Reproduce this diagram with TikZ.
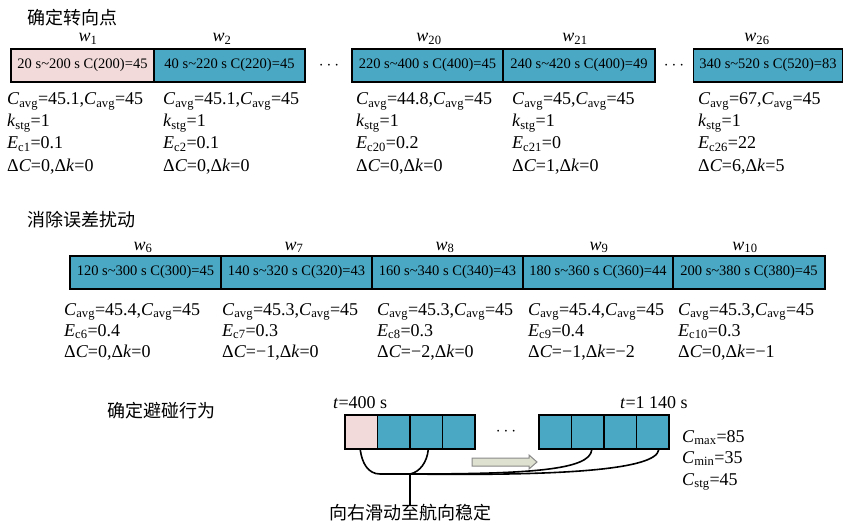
\documentclass[tikz,border=0pt]{standalone}
\usepackage{fontspec}
\setmainfont{Liberation Serif}
\newfontfamily\cjk{Noto Sans CJK SC}
\definecolor{tealbox}{HTML}{4AA8C4}
\definecolor{pinkbox}{HTML}{F2DADA}
\definecolor{arrfill}{HTML}{DEE1CF}
\definecolor{arrdraw}{HTML}{8A8A8A}
\newcommand\cav{\textit{C}\textsubscript{avg}}
\newcommand\kst{\textit{k}\textsubscript{stg}}
\newcommand\ecx[1]{\textit{E}\textsubscript{c#1}}
\newcommand\dC{Δ\textit{C}}
\newcommand\dk{Δ\textit{k}}
\newcommand\wl[1]{\textit{w}\textsubscript{#1}}
\begin{document}
\begin{tikzpicture}[x=1pt,y=-1pt,
  wbox/.style={draw=black, line width=1.6pt, fill=tealbox, inner sep=0pt,
    minimum height=33pt, font=\fontsize{14.5}{16}\selectfont},
  sbox/.style={draw=black, line width=1.6pt, fill=tealbox, inner sep=0pt,
    minimum height=34pt, minimum width=32.5pt},
  info/.style={anchor=base west, inner sep=0pt, font=\fontsize{18}{20}\selectfont},
  wlab/.style={anchor=base, inner sep=0pt, font=\fontsize{18}{20}\selectfont},
  cjkt/.style={inner sep=0pt, font=\cjk\fontsize{18}{20}\selectfont},
  dots/.style={inner sep=0pt, font=\fontsize{18}{20}\selectfont},
  conn/.style={draw=black, line width=1.6pt},
  mvarrow/.style={draw=arrdraw, fill=arrfill, line width=1pt}]
\useasboundingbox[fill=white] (0,0) rectangle (844,524);

% ---------- Row 1 ----------
\node[cjkt, anchor=west] (t1) at (27,18) {确定转向点};
\node[wbox, fill=pinkbox, minimum width=143pt] (b1) at (82.5,65.5) {20 s\textasciitilde 200 s C(200)=45};
\node[wbox, minimum width=151pt] (b2) at (229.5,65.5) {40 s\textasciitilde 220 s C(220)=45};
\node[dots] (d1) at (329,66) {$\cdots$};
\node[wbox, minimum width=151pt] (b20) at (427.5,65.5) {220 s\textasciitilde 400 s C(400)=45};
\node[wbox, minimum width=152pt] (b21) at (579,65.5) {240 s\textasciitilde 420 s C(400)=49};
\node[dots] (d2) at (674,66) {$\cdots$};
\node[wbox, minimum width=149pt] (b26) at (768,65.5) {340 s\textasciitilde 520 s C(520)=83};

\node[wlab] (w1) at (88,42) {\wl{1}};
\node[wlab] (w2) at (222,42) {\wl{2}};
\node[wlab] (w20) at (429,42) {\wl{20}};
\node[wlab] (w21) at (575,42) {\wl{21}};
\node[wlab] (w26) at (757,42) {\wl{26}};

\foreach \n/\x/\la/\lb/\lc/\ld in {
  1/7/{\cav=45.1,\cav=45}/{\kst=1}/{\ecx{1}=0.1}/{\dC=0,\dk=0},
  2/163/{\cav=45.1,\cav=45}/{\kst=1}/{\ecx{2}=0.1}/{\dC=0,\dk=0},
  3/356/{\cav=44.8,\cav=45}/{\kst=1}/{\ecx{20}=0.2}/{\dC=0,\dk=0},
  4/512/{\cav=45,\cav=45}/{\kst=1}/{\ecx{21}=0}/{\dC=1,\dk=0},
  5/698/{\cav=67,\cav=45}/{\kst=1}/{\ecx{26}=22}/{\dC=6,\dk=5}}{
  \node[info] (pa\n) at (\x,105) {\la};
  \node[info] (pb\n) at (\x,127) {\lb};
  \node[info] (pc\n) at (\x,149) {\lc};
  \node[info] (pd\n) at (\x,172) {\ld};
}

% ---------- Row 2 ----------
\node[cjkt, anchor=west] (t2) at (27,220) {消除误差扰动};
\node[wbox, minimum width=151pt] (e6) at (145.5,272.5) {120 s\textasciitilde 300 s C(300)=45};
\node[wbox, minimum width=151pt] (e7) at (296.5,272.5) {140 s\textasciitilde 320 s C(320)=43};
\node[wbox, minimum width=151pt] (e8) at (447.5,272.5) {160 s\textasciitilde 340 s C(340)=43};
\node[wbox, minimum width=150pt] (e9) at (598,272.5) {180 s\textasciitilde 360 s C(360)=44};
\node[wbox, minimum width=152pt] (e10) at (749,272.5) {200 s\textasciitilde 380 s C(380)=45};

\node[wlab] (w6) at (143,250) {\wl{6}};
\node[wlab] (w7) at (294,250) {\wl{7}};
\node[wlab] (w8) at (445,250) {\wl{8}};
\node[wlab] (w9) at (599,250) {\wl{9}};
\node[wlab] (w10) at (745,250) {\wl{10}};

\foreach \n/\x/\la/\lb/\lc in {
  1/64/{\cav=45.4,\cav=45}/{\ecx{6}=0.4}/{\dC=0,\dk=0},
  2/222/{\cav=45.3,\cav=45}/{\ecx{7}=0.3}/{\dC=−1,\dk=0},
  3/377/{\cav=45.3,\cav=45}/{\ecx{8}=0.3}/{\dC=−2,\dk=0},
  4/528/{\cav=45.4,\cav=45}/{\ecx{9}=0.4}/{\dC=−1,\dk=−2},
  5/678/{\cav=45.3,\cav=45}/{\ecx{10}=0.3}/{\dC=0,\dk=−1}}{
  \node[info] (qa\n) at (\x,315) {\la};
  \node[info] (qb\n) at (\x,336) {\lb};
  \node[info] (qc\n) at (\x,357) {\lc};
}

% ---------- Row 3 ----------
\node[cjkt, anchor=west] (t3) at (107,411) {确定避碰行为};
\node[info] (ta) at (333,408) {\textit{t}=400 s};
\node[info] (tb) at (620,408) {\textit{t}=1 140 s};

\node[sbox, fill=pinkbox] (s1) at (361.25,432) {};
\node[sbox] (s2) at (393.75,432) {};
\node[sbox] (s3) at (426.25,432) {};
\node[sbox] (s4) at (458.75,432) {};
\node[dots] (d3) at (506,432) {$\cdots$};
\node[sbox] (r1) at (555.25,432) {};
\node[sbox] (r2) at (587.75,432) {};
\node[sbox] (r3) at (620.25,432) {};
\node[sbox] (r4) at (652.75,432) {};

\node[info] (cmax) at (682,442) {\textit{C}\textsubscript{max}=85};
\node[info] (cmin) at (682,463) {\textit{C}\textsubscript{min}=35};
\node[info] (cstg) at (682,485) {\textit{C}\textsubscript{stg}=45};

\draw[mvarrow] (472,458) -- (529,458) -- (529,455) -- (537,462) -- (529,469)
  -- (529,466) -- (472,466) -- cycle;

\coordinate (J) at (410,474);
\node[cjkt] (lbl) at (410,513) {向右滑动至航向稳定};

\draw[conn] ([xshift=-1pt]s1.south) .. controls (362,463) and (368,474) .. (380,474) -- (J);
\draw[conn] ([xshift=2pt]s3.south) .. controls (427,462) and (420,472) .. (J);
\draw[conn] (J) -- ([yshift=-2pt]lbl.north);
\draw[conn] (J) .. controls (530,474) and (590,470) .. ([xshift=4pt]r2.south);
\draw[conn] (J) .. controls (560,476) and (656,470) .. ([xshift=6pt]r4.south);
\end{tikzpicture}
\end{document}
